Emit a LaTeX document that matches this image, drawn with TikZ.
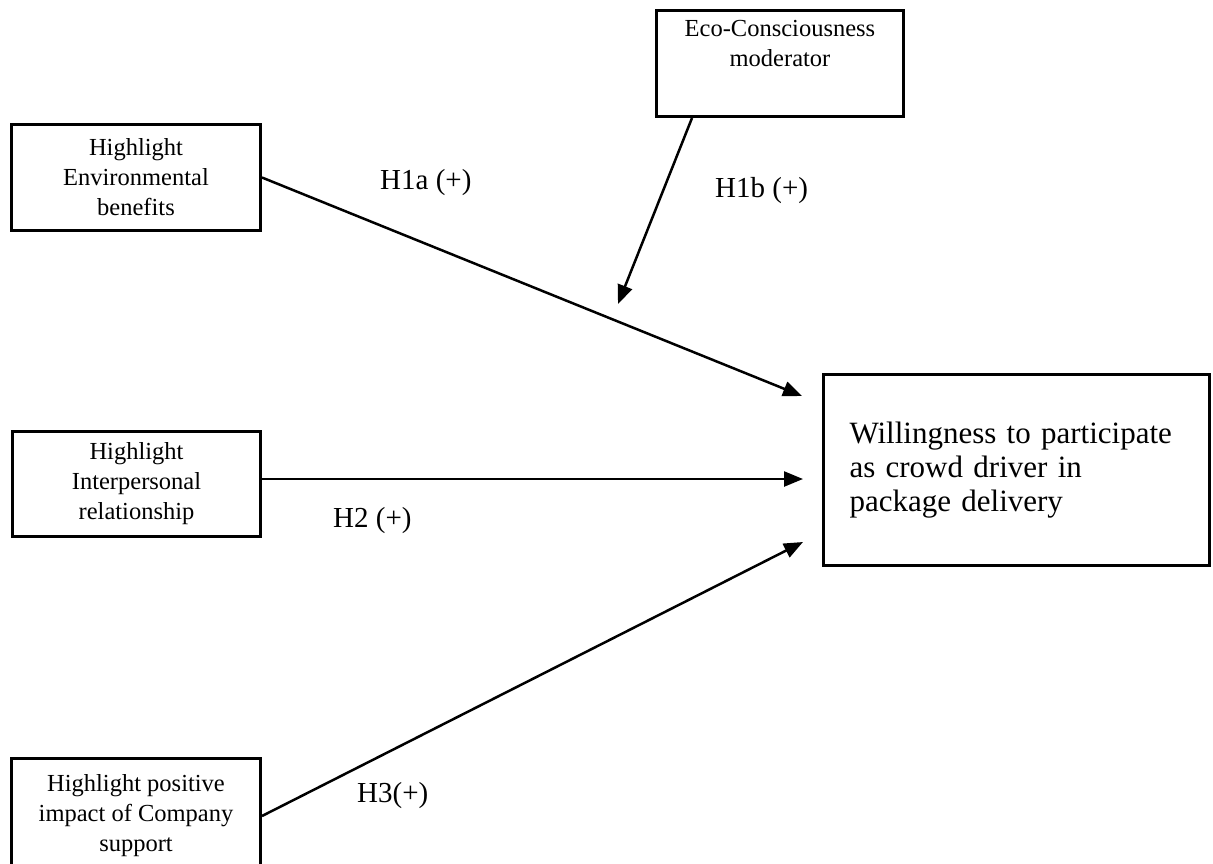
\documentclass[tikz,border=0pt]{standalone}
\usepackage{fontspec}
\setmainfont{Liberation Serif}
\usetikzlibrary{arrows.meta}
\begin{document}
\begin{tikzpicture}[x=1pt,y=-1pt,
  box/.style={draw,line width=3pt,rectangle,inner sep=0pt,align=center,font=\fontsize{24.5}{30}\selectfont},
  conn/.style={line width=2.5pt,-{Triangle[length=19pt,width=15pt]}},
  hyp/.style={anchor=base west,inner sep=0pt,font=\fontsize{29}{34}\selectfont}]
\useasboundingbox (0,0) rectangle (1213,863);
% boxes
\node[box,minimum width=249pt,minimum height=106pt] (env) at (136,177.5) {Highlight\\Environmental\\benefits};
\node[box,minimum width=248pt,minimum height=105pt] (inter) at (136.5,484) {Highlight\\Interpersonal\\relationship};
\node[box,minimum width=249pt,minimum height=116pt] (comp) at (136,816) {Highlight positive\\impact of Company\\support};
\node[box,minimum width=247pt,minimum height=106pt] (eco) at (780,63.5) {Eco-Consciousness\\moderator\\[10pt]};
\node[box,minimum width=386pt,minimum height=191pt,align=left,text width=334pt,font=\fontsize{31}{34}\selectfont] (will) at (1016.5,470) {Willingness to participate\\as crowd driver in\\package delivery};
% arrow tips
\coordinate (t1) at (802,396);
\coordinate (t2) at (803,479);
\coordinate (t3) at (803,542);
\coordinate (t4) at (618,304);
% connectors
\draw[conn] (env.east) -- (t1);
\draw[conn] ([yshift=5pt]inter.east) -- (t2);
\draw[conn] (comp.east) -- (t3);
\draw[conn] ([xshift=-88pt]eco.south) -- (t4);
% labels
\node[hyp] (h1a) at (380,189) {H1a (+)};
\node[hyp] (h1b) at (715,197) {H1b (+)};
\node[hyp] (h2) at (333,527) {H2 (+)};
\node[hyp] (h3) at (357,802) {H3(+)};
\end{tikzpicture}
\end{document}
